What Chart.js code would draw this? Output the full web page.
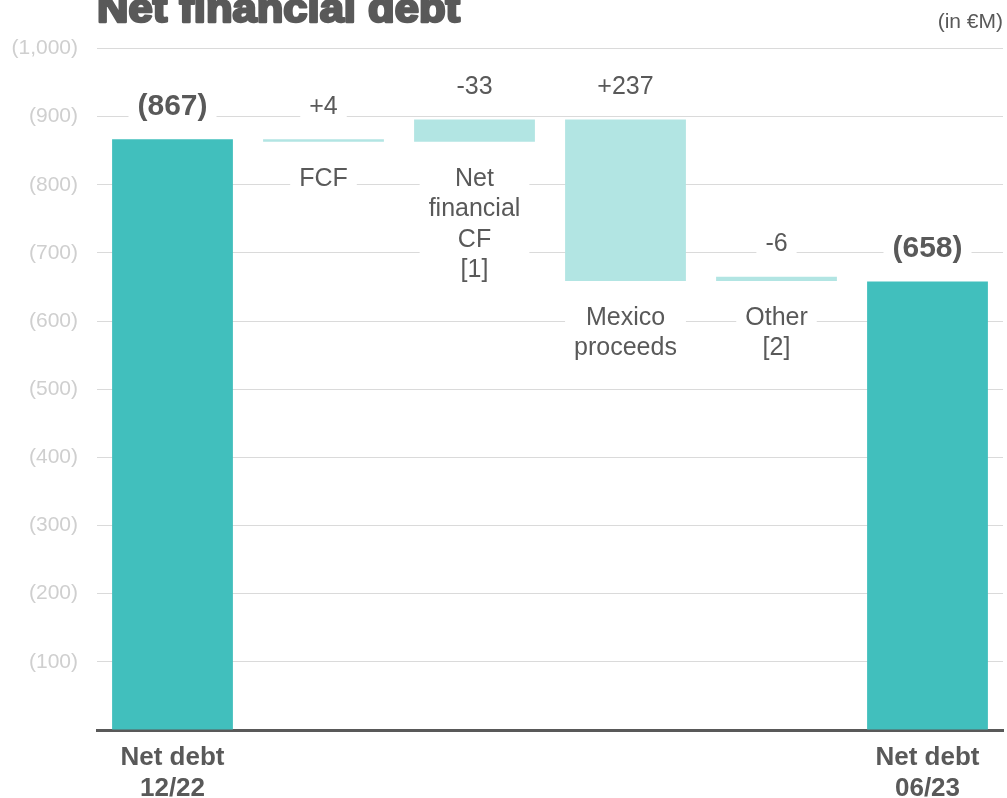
<!DOCTYPE html>
<html>
<head>
<meta charset="utf-8">
<title>Net financial debt</title>
<script src="https://cdn.jsdelivr.net/npm/chart.js@4"></script>
<style>
  html, body { margin: 0; padding: 0; background: #ffffff; }
  #wrap { position: relative; width: 1007px; height: 798px; }
</style>
</head>
<body>
<div id="wrap"><canvas id="chart" width="1007" height="798"></canvas></div>
<script>
// Waterfall bridge of net financial debt (in €M)
const categoryLines = [
  ['Net debt', '12/22'],
  ['FCF'],
  ['Net', 'financial', 'CF', '[1]'],
  ['Mexico', 'proceeds'],
  ['Other', '[2]'],
  ['Net debt', '06/23']
];
const openingDebt = 867;
const closingDebt = 658;
// movements as labelled: a positive figure lowers the debt
const movements = [4, -33, 237, -6];
const movementLabels = ['+4', '-33', '+237', '-6'];
const totalLabels = ['(867)', '(658)'];
const tickValues = [100, 200, 300, 400, 500, 600, 700, 800, 900, 1000];
const tickLabels = ['(100)', '(200)', '(300)', '(400)', '(500)', '(600)', '(700)', '(800)', '(900)', '(1,000)'];

const DARK = '#41bfbd';
const LIGHT = '#b2e5e3';
const TEXT = '#595959';
const FONT = '"Liberation Sans", Arial, sans-serif';

// floating bar ranges built from the running total
const ranges = [[0, openingDebt]];
let level = openingDebt;
movements.forEach(m => {
  const next = level - m;
  ranges.push([Math.min(level, next), Math.max(level, next)]);
  level = next;
});
ranges.push([0, closingDebt]);
const colors = ranges.map((r, i) => (i === 0 || i === ranges.length - 1) ? DARK : LIGHT);
const barTexts = [totalLabels[0], ...movementLabels, totalLabels[1]];

const headerPlugin = {
  id: 'header',
  afterDraw(chart) {
    const ctx = chart.ctx;
    ctx.save();
    ctx.fillStyle = TEXT;
    ctx.strokeStyle = TEXT;
    ctx.font = 'bold 40px ' + FONT;
    ctx.textBaseline = 'alphabetic';
    ctx.textAlign = 'left';
    const t = 'Net financial debt';
    const w = ctx.measureText(t).width;
    ctx.translate(97, 22);
    ctx.scale(363 / w, 1);
    ctx.lineWidth = 2.6;
    ctx.lineJoin = 'round';
    ctx.fillText(t, 0, 0);
    ctx.strokeText(t, 0, 0);
    ctx.restore();

    ctx.save();
    ctx.fillStyle = TEXT;
    ctx.font = '21px ' + FONT;
    ctx.textAlign = 'right';
    ctx.textBaseline = 'middle';
    ctx.fillText('(in €M)', 1003, 22);
    ctx.restore();
  }
};

const barLabelPlugin = {
  id: 'barLabels',
  afterDatasetsDraw(chart) {
    const ctx = chart.ctx;
    const meta = chart.getDatasetMeta(0);
    const last = meta.data.length - 1;
    ctx.save();
    ctx.textAlign = 'center';
    ctx.textBaseline = 'middle';
    meta.data.forEach((el, i) => {
      const top = Math.min(el.y, el.base);
      const bottom = Math.max(el.y, el.base);
      const isTotal = (i === 0 || i === last);
      // value above the bar
      ctx.font = (isTotal ? 'bold 30px ' : '25px ') + FONT;
      const txt = barTexts[i];
      const tw = ctx.measureText(txt).width;
      const cy = top - 34;
      const bh = isTotal ? 36 : 32;
      ctx.fillStyle = '#ffffff';
      ctx.fillRect(el.x - tw / 2 - 9, cy - bh / 2, tw + 18, bh);
      ctx.fillStyle = TEXT;
      ctx.fillText(txt, el.x, cy + 1.5);
      // category name below the moving bars
      if (!isTotal) {
        const lines = categoryLines[i];
        const lh = 30.5;
        ctx.font = '25px ' + FONT;
        const mw = Math.max(...lines.map(l => ctx.measureText(l).width));
        const y0 = bottom + 36;
        ctx.fillStyle = '#ffffff';
        ctx.fillRect(el.x - mw / 2 - 9, y0 - 18, mw + 18, lines.length * lh + 6);
        ctx.fillStyle = TEXT;
        lines.forEach((l, k) => ctx.fillText(l, el.x, y0 + k * lh + 1));
      }
    });
    ctx.restore();
  }
};

new Chart(document.getElementById('chart'), {
  type: 'bar',
  data: {
    labels: categoryLines.map(l => l.join(' ')),
    datasets: [{
      data: ranges,
      backgroundColor: colors,
      borderWidth: 0,
      barPercentage: 0.8,
      categoryPercentage: 1.0
    }]
  },
  options: {
    responsive: false,
    animation: false,
    events: [],
    layout: { padding: { top: 48.5, right: 4, left: 0, bottom: 0 } },
    plugins: {
      legend: { display: false },
      tooltip: { enabled: false },
      title: { display: false }
    },
    scales: {
      x: {
        offset: true,
        grid: { display: false, drawTicks: false },
        border: { display: true, color: '#595959', width: 3 },
        ticks: {
          autoSkip: false,
          maxRotation: 0,
          padding: 13,
          color: TEXT,
          font: { family: FONT, size: 26, weight: 'bold', lineHeight: 1.17 },
          callback: (v, i) => (i === 0 || i === categoryLines.length - 1) ? categoryLines[i] : ''
        },
        afterFit: s => { s.height = 68; s.paddingLeft = 0; s.paddingRight = 0; }
      },
      y: {
        min: 0,
        max: 1000,
        grid: { color: '#dadada', lineWidth: 1, drawTicks: false },
        border: { display: false },
        afterBuildTicks: s => { s.ticks = [0, ...tickValues].map(v => ({ value: v })); },
        ticks: {
          padding: 19,
          color: '#cfcfcf',
          font: { family: FONT, size: 21 },
          callback: v => {
            const k = tickValues.indexOf(v);
            return k < 0 ? '' : tickLabels[k];
          }
        },
        afterFit: s => { s.width = 97; }
      }
    }
  },
  plugins: [headerPlugin, barLabelPlugin]
});
</script>
</body>
</html>
